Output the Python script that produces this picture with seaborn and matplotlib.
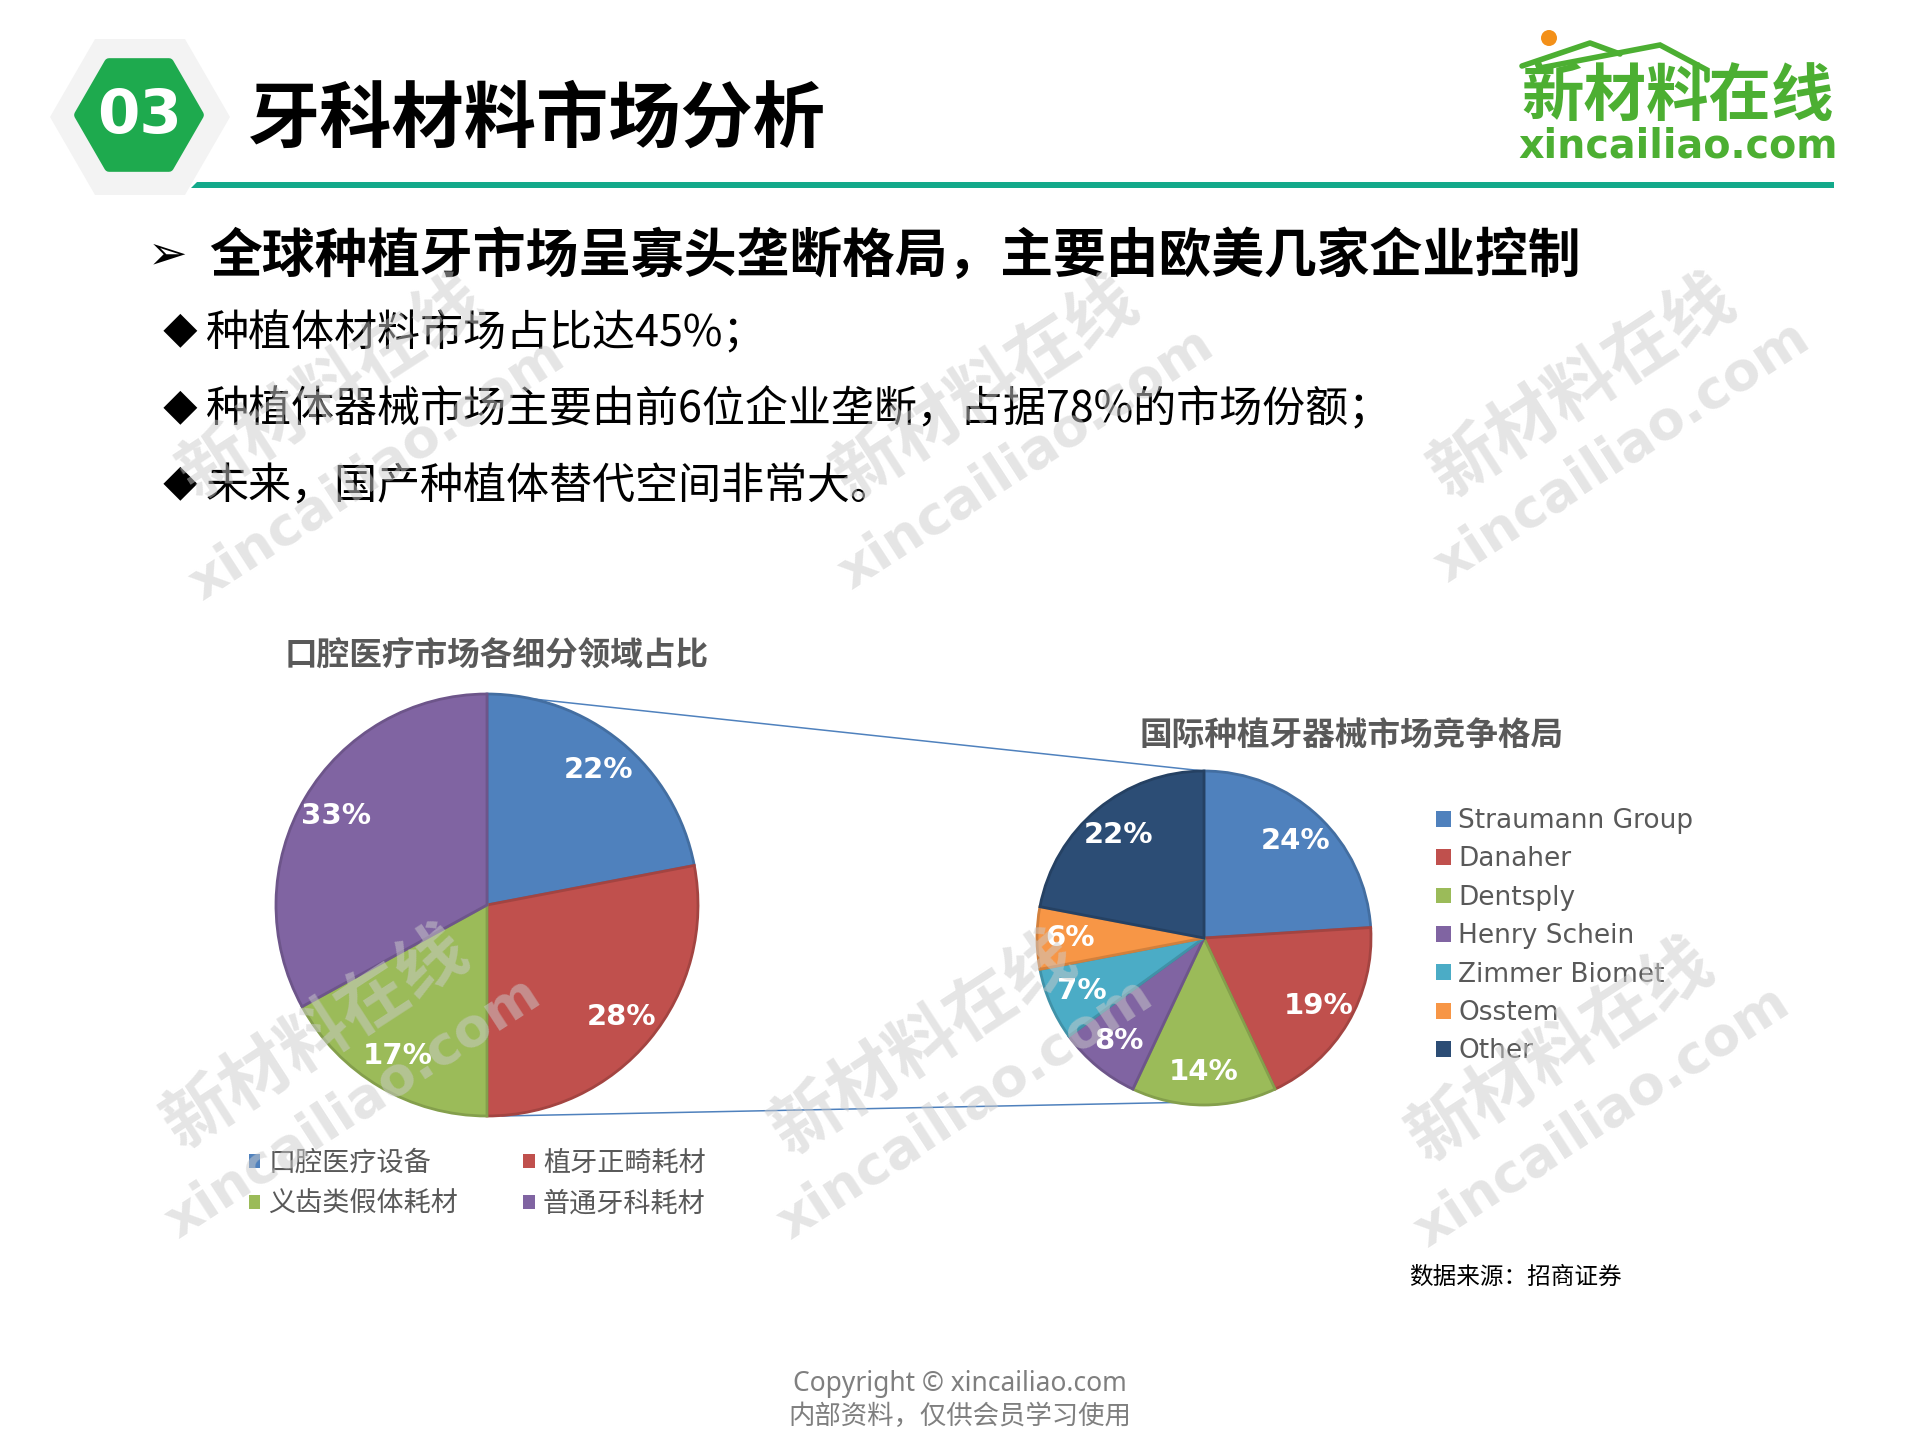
import numpy as np
import matplotlib
matplotlib.use("Agg")
import matplotlib.pyplot as plt
import matplotlib.colors as mcolors
from matplotlib.patches import RegularPolygon, Polygon, Circle, ConnectionPatch
import seaborn as sns

# ---------------- data ----------------
seg_labels = ["口腔医疗设备", "植牙正畸耗材", "义齿类假体耗材", "普通牙科耗材"]
seg_values = [22, 28, 17, 33]
seg_colors = ["#4F81BD", "#C0504D", "#9BBB59", "#8064A2"]

comp_labels = ["Straumann Group", "Danaher", "Dentsply", "Henry Schein",
               "Zimmer Biomet", "Osstem", "Other"]
comp_values = [24, 19, 14, 8, 7, 6, 22]
comp_colors = ["#4F81BD", "#C0504D", "#9BBB59", "#8064A2", "#4BACC6", "#F79646", "#2C4D75"]

section_no = "03"
page_title = "牙科材料市场分析"
headline = "全球种植牙市场呈寡头垄断格局，主要由欧美几家企业控制"
bullets = ["种植体材料市场占比达45%；",
           "种植体器械市场主要由前6位企业垄断，占据78%的市场份额；",
           "未来，国产种植体替代空间非常大。"]
left_title = "口腔医疗市场各细分领域占比"
right_title = "国际种植牙器械市场竞争格局"
source_text = "数据来源：招商证券"
footer_lines = ["Copyright © xincailiao.com", "内部资料，仅供会员学习使用"]
logo_cn = "新材料在线"
logo_en = "xincailiao.com"

# ---------------- style ----------------
sns.set_theme(style="white")
plt.rcParams["font.family"] = ["Noto Sans CJK SC", "DejaVu Sans"]

W, H = 1920, 1440
fig = plt.figure(figsize=(W / 100, H / 100), dpi=100)
fig.patch.set_facecolor("white")

# background overlay in pixel coordinates
bg = fig.add_axes([0, 0, 1, 1], zorder=0)
bg.set_xlim(0, W)
bg.set_ylim(H, 0)
bg.axis("off")


def darker(c, f=0.85):
    r, g, b = mcolors.to_rgb(c)
    return (r * f, g * f, b * f)


# ---- header ----
bg.add_patch(RegularPolygon((140, 117), numVertices=6, radius=90, orientation=np.pi / 6,
                            facecolor="#F3F3F3", edgecolor="none"))
bg.add_patch(RegularPolygon((139, 115), numVertices=6, radius=60, orientation=np.pi / 6,
                            facecolor="#1EAA4E", edgecolor="#1EAA4E", linewidth=7,
                            joinstyle="round"))
bg.text(140, 116, section_no, color="white", fontsize=44, fontweight="bold",
        family="DejaVu Sans", ha="center", va="center")
bg.text(248, 120, page_title, color="black", fontsize=52, fontweight="bold",
        ha="left", va="center")
bg.add_patch(Polygon([(197, 182), (1834, 182), (1834, 188), (191, 188)],
                     facecolor="#13A98A", edgecolor="none"))

# logo
bg.plot([1522, 1590, 1620], [66, 43, 54], color="#4CAF32", lw=4, solid_capstyle="round")
bg.plot([1540, 1660, 1707, 1707], [68, 45, 70, 80], color="#4CAF32", lw=4,
        solid_capstyle="round", solid_joinstyle="miter")
bg.add_patch(Circle((1549, 38), 8, facecolor="#F39019", edgecolor="none"))
bg.text(1678, 96, logo_cn, color="#4CAF32", fontsize=45, fontweight="bold",
        ha="center", va="center")
bg.text(1678, 147, logo_en, color="#4CAF32", fontsize=28.5, fontweight="bold",
        family="DejaVu Sans", ha="center", va="center")

# headline + bullets
bg.text(168, 256, "➢", fontsize=34, family="DejaVu Sans", color="black",
        ha="center", va="center")
bg.text(209, 256, headline, fontsize=38, fontweight="bold", color="black",
        ha="left", va="center")
for i, line in enumerate(bullets):
    y = 334 + i * 76.5
    bg.text(180, y, "◆", fontsize=25, color="black", ha="center", va="center")
    bg.text(206, y, line, fontsize=31, color="black", ha="left", va="center")

# chart titles
bg.text(497, 655, left_title, fontsize=23.5, fontweight="bold", color="#595959",
        ha="center", va="center")
bg.text(1352, 735, right_title, fontsize=23.5, fontweight="bold", color="#595959",
        ha="center", va="center")

# source + footer
bg.text(1409, 1277, source_text, fontsize=17, color="black", ha="left", va="center")
bg.text(960, 1384, footer_lines[0], fontsize=19, color="#7F7F7F",
        family=["Noto Sans", "DejaVu Sans"], ha="center", va="center")
bg.text(960, 1416, footer_lines[1], fontsize=19, color="#7F7F7F", ha="center", va="center")


# ---------------- pies ----------------
def pie_axes(cx, cy, r):
    return fig.add_axes([(cx - r) / W, 1 - (cy + r) / H, 2 * r / W, 2 * r / H], zorder=2)


label_props = dict(color="white", fontsize=21, fontweight="bold", family="DejaVu Sans")

axL = pie_axes(487, 905, 211)
wL, tL, pL = axL.pie(seg_values, colors=seg_colors, startangle=90, counterclock=False,
                     autopct=lambda p: f"{p:.0f}%", pctdistance=0.83,
                     textprops=label_props)
for w, c in zip(wL, seg_colors):
    w.set_edgecolor(darker(c))
    w.set_linewidth(2)
    w.set_clip_on(False)
axL.set_xlim(-1, 1)
axL.set_ylim(-1, 1)
axL.axis("off")

axR = pie_axes(1204, 938, 167)
wR, tR, pR = axR.pie(comp_values, colors=comp_colors, startangle=90, counterclock=False,
                     autopct=lambda p: f"{p:.0f}%", pctdistance=0.8,
                     textprops=label_props)
for w, c in zip(wR, comp_colors):
    w.set_edgecolor(darker(c))
    w.set_linewidth(2)
    w.set_clip_on(False)
axR.set_xlim(-1, 1)
axR.set_ylim(-1, 1)
axR.axis("off")

# connector lines
for pa, pb in [((0.0, 1.0), (0.0, 1.0)), ((0.07, -1.0), (-0.17, -0.985))]:
    con = ConnectionPatch(xyA=pa, coordsA=axL.transData, xyB=pb, coordsB=axR.transData,
                          color="#4F81BD", lw=1.1, zorder=1)
    fig.add_artist(con)

# legends
order = [0, 2, 1, 3]
legL = axL.legend([wL[i] for i in order], [seg_labels[i] for i in order], ncol=2,
                  loc="upper left", bbox_to_anchor=(249 / W, 1 - 1150 / H),
                  bbox_transform=fig.transFigure, frameon=False, fontsize=19.5,
                  handlelength=0.42, handleheight=0.42, handletextpad=0.3,
                  columnspacing=2.4, labelspacing=0.5, borderpad=0, borderaxespad=0,
                  labelcolor="#595959")
for h in legL.legend_handles:
    h.set_linewidth(0)

legR = axR.legend(wR, comp_labels, loc="upper left", bbox_to_anchor=(1436 / W, 1 - 808 / H),
                  bbox_transform=fig.transFigure, frameon=False,
                  prop=dict(family="DejaVu Sans", size=19),
                  handlelength=0.55, handleheight=0.55, handletextpad=0.3,
                  labelspacing=0.47, borderpad=0, borderaxespad=0, labelcolor="#595959")
for h in legR.legend_handles:
    h.set_linewidth(0)

# ---------------- watermarks ----------------
fg = fig.add_axes([0, 0, 1, 1], zorder=10)
fg.set_xlim(0, W)
fg.set_ylim(H, 0)
fg.axis("off")
fg.patch.set_alpha(0)
wm_cn_pos = [(332, 388), (986, 389), (1583, 387), (316, 1038), (924, 1044), (1561, 1051)]
wm_en_pos = [(377, 470), (1026, 459), (1622, 452), (353, 1108), (965, 1109), (1602, 1117)]
for (x, y) in wm_cn_pos:
    fg.text(x, y, logo_cn, fontsize=50, fontweight="bold", color="#CCCCCC", alpha=0.5,
            rotation=33, rotation_mode="anchor", ha="center", va="center")
for (x, y) in wm_en_pos:
    fg.text(x, y, logo_en, fontsize=39, fontweight="bold", color="#CCCCCC", alpha=0.5,
            family="DejaVu Sans", rotation=33, rotation_mode="anchor",
            ha="center", va="center")

fig.savefig("out.png", dpi=100, facecolor="white")
